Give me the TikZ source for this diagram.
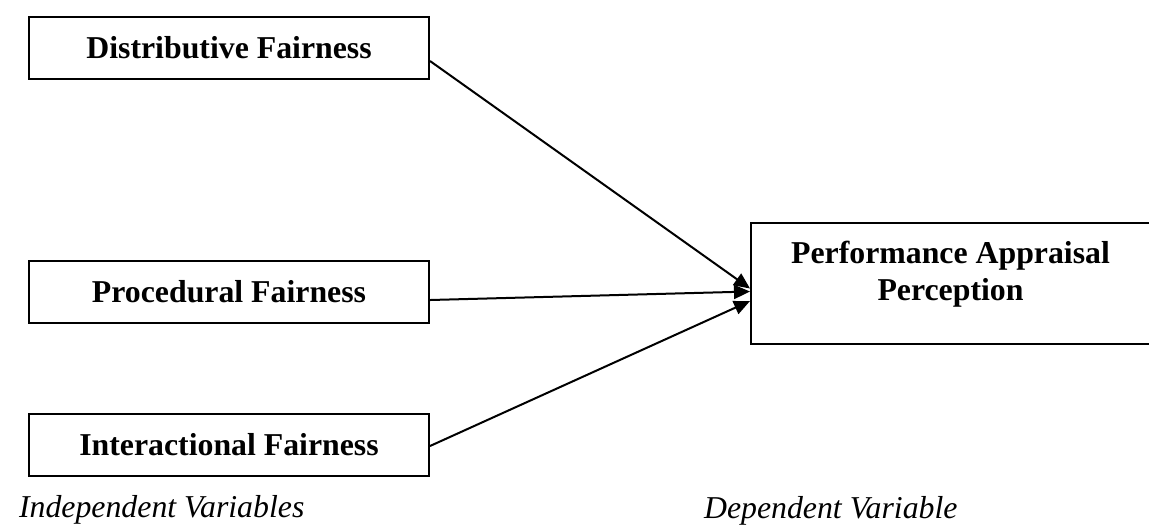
\documentclass[tikz,border=0pt]{standalone}
\usepackage{fontspec}
\setmainfont{Liberation Serif}
\usetikzlibrary{arrows.meta}
\begin{document}
\begin{tikzpicture}[x=0.5pt, y=-0.5pt,
  every node/.style={font=\fontsize{15.9pt}{18.5pt}\selectfont},
  varbox/.style={draw, line width=1pt, rectangle, inner sep=0pt,
    minimum width=200pt, minimum height=31pt,
    font=\fontsize{15.9pt}{18.5pt}\selectfont\bfseries},
  caption/.style={anchor=base west, font=\fontsize{15.9pt}{18.5pt}\selectfont\itshape},
  link/.style={line width=1pt, -{Triangle[length=8pt, width=7pt]}}]
  \useasboundingbox (0,0) rectangle (1149,527);
  % Blocks
  \node[varbox] (dist)  at (229,47.5) {Distributive Fairness};
  \node[varbox] (proc)  at (229,292)  {Procedural Fairness};
  \node[varbox] (inter) at (229,445)  {Interactional Fairness};
  \node[varbox, minimum width=199.5pt, minimum height=60.5pt] (perf) at (950.5,283.5) {};
  \node[font=\fontsize{15.9pt}{18.5pt}\selectfont\bfseries, align=center] (perftext) at (950.5,274)
    {Performance Appraisal\\Perception};

  % Links
  \draw[link] ([yshift=-6.75pt]dist.east) -- ([yshift=-2.5pt]perf.west);
  \draw[link] ([yshift=-4pt]proc.east)    -- ([yshift=-4pt]perf.west);
  \draw[link] ([yshift=-0.5pt]inter.east) -- ([yshift=-8.75pt]perf.west);

  % Captions
  \node[caption] (indep) at (12,517)  {Independent Variables};
  \node[caption] (dep)   at (697,518) {Dependent Variable};
\end{tikzpicture}
\end{document}
